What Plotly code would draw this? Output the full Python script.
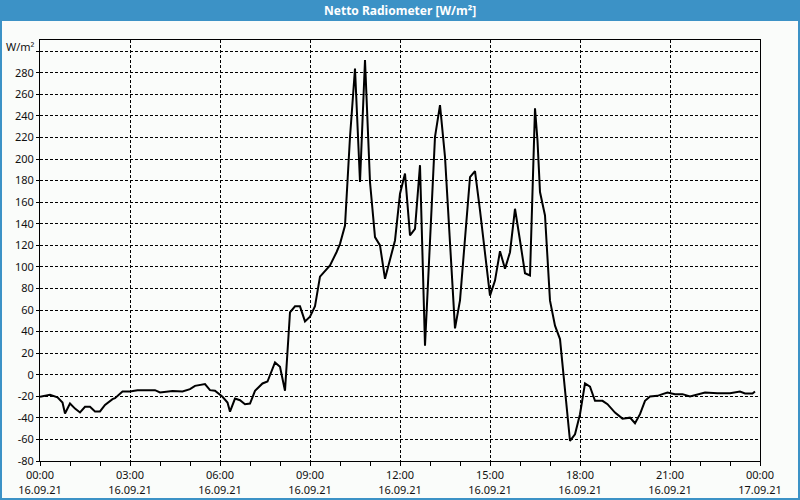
import plotly.graph_objects as go

times = ["00:00","00:20","00:35","00:45","00:50","01:00","01:10","01:20","01:30","01:40",
         "01:50","02:00","02:10","02:25","02:30","02:45","03:00","03:15","03:50","04:00",
         "04:25","04:45","05:00","05:10","05:30","05:40","05:50","06:05","06:15","06:20",
         "06:30","06:40","06:50","07:00","07:10","07:25","07:35","07:50","08:00","08:10",
         "08:20","08:30","08:40","08:50","09:00","09:10","09:20","09:40","09:53","10:00",
         "10:10","10:20","10:30","10:40","10:50","11:00","11:10","11:20","11:30","11:50",
         "12:00","12:10","12:20","12:30","12:40","12:50","13:10","13:20","13:30","13:50",
         "14:00","14:10","14:20","14:30","14:40","15:00","15:10","15:20","15:30","15:40",
         "15:50","16:00","16:10","16:20","16:30","16:35","16:40","16:50","17:00","17:10",
         "17:20","17:40","17:50","18:00","18:10","18:20","18:30","18:45","18:55","19:10",
         "19:25","19:40","19:50","20:00","20:10","20:20","20:35","20:45","20:55","21:10",
         "21:25","21:40","21:55","22:10","22:35","23:00","23:20","23:30","23:45","23:50"]
values = [-20.5,-18.6,-21,-25.8,-36,-26.7,-31.4,-35,-29.8,-29.8,
          -34,-34,-28,-22.6,-21.7,-15.6,-15.6,-14.3,-14.3,-16.5,
          -15,-15.6,-13.4,-10.3,-8.7,-14.3,-14.9,-20.5,-25.8,-34.2,
          -22.1,-23.6,-27.3,-26.7,-14.9,-8.1,-6.3,11.4,7.4,-14.9,
          57.9,63.4,63.4,49.5,53.9,63.5,91,101.3,113.6,121.4,
          138.4,220.5,284,178.7,291.8,178.7,127.6,119.9,88.9,124.5,
          167.9,186.5,129.2,135.3,194.3,26.9,220.5,250,202,43,
          69,130.7,183.3,188.9,152.3,73.4,87.3,114.6,98.2,113.6,
          153.9,124.5,94.1,92,247,217,169.4,147.7,68.7,45.5,
          33.1,-61.4,-55.2,-36.6,-8.1,-11,-24.2,-24.2,-27.3,-35.1,
          -40.7,-39.8,-45,-36.6,-24.2,-20.2,-19.6,-18,-16.5,-18,
          -18,-20.2,-18.6,-16.5,-17.1,-17.1,-15.6,-17.4,-17.4,-15.6]

x_tick_vals = ["2021-09-16 00:00","2021-09-16 03:00","2021-09-16 06:00","2021-09-16 09:00",
               "2021-09-16 12:00","2021-09-16 15:00","2021-09-16 18:00","2021-09-16 21:00",
               "2021-09-17 00:00"]
x_tick_text = ["00:00<br>16.09.21","03:00<br>16.09.21","06:00<br>16.09.21","09:00<br>16.09.21",
               "12:00<br>16.09.21","15:00<br>16.09.21","18:00<br>16.09.21","21:00<br>16.09.21",
               "00:00<br>17.09.21"]
y_tick_vals = list(range(-80, 301, 20))
y_tick_text = [str(v) for v in y_tick_vals[:-1]] + [""]

title_text = "Netto Radiometer [W/m²]"
unit_text = "W/m²"

x = ["2021-09-16 " + t for t in times]

FONT = "Noto Sans"
BLUE = "#3c92c6"

fig = go.Figure()
fig.add_trace(go.Scatter(x=x, y=values, mode="lines",
                         line=dict(color="black", width=2), hoverinfo="skip"))

L, R, T, B = 40, 40, 40, 39
W, H = 800, 500
pw, ph = W - L - R, H - T - B

def px(xp):
    return (xp - L) / pw

def py(yp):
    return (H - B - yp) / ph

fig.update_layout(
    width=W, height=H,
    margin=dict(l=L, r=R, t=T, b=B, autoexpand=False),
    paper_bgcolor="#fafcfa", plot_bgcolor="#fafcfa",
    showlegend=False,
    font=dict(family=FONT, size=11, color="#111"),
    shapes=[
        dict(type="rect", xref="paper", yref="paper", x0=px(0), x1=px(800), y0=py(0), y1=py(21),
             fillcolor=BLUE, line=dict(width=0), layer="below"),
        dict(type="rect", xref="paper", yref="paper", x0=px(1), x1=px(799), y0=py(1), y1=py(499),
             fillcolor="rgba(0,0,0,0)", line=dict(color=BLUE, width=2)),
    ],
    annotations=[
        dict(text="<b>" + title_text + "</b>", xref="paper", yref="paper", x=0.5, y=py(11),
             showarrow=False, font=dict(family=FONT, size=12, color="white"),
             xanchor="center", yanchor="middle"),
        dict(text=unit_text, xref="paper", yref="paper", x=px(37), y=py(46),
             showarrow=False, font=dict(family=FONT, size=11, color="#111"),
             xanchor="right", yanchor="middle"),
    ],
)

fig.update_xaxes(
    type="date", automargin=False,
    range=["2021-09-16 00:00", "2021-09-17 00:00"],
    tickvals=x_tick_vals, ticktext=x_tick_text,
    showgrid=True, gridcolor="black", gridwidth=1, griddash="3px,2px",
    showline=True, linecolor="black", linewidth=1, mirror=True,
    ticks="outside", ticklen=4, tickcolor="black",
    minor=dict(dtick=3600000, ticks="outside", ticklen=4, tickcolor="black", showgrid=False),
    zeroline=False, fixedrange=True,
)
fig.update_yaxes(
    range=[-80, 310.4], automargin=False,
    tickvals=y_tick_vals, ticktext=y_tick_text,
    showgrid=True, gridcolor="black", gridwidth=1, griddash="3px,2px",
    showline=True, linecolor="black", linewidth=1, mirror=True,
    ticks="outside", ticklen=3, tickcolor="black",
    zeroline=False, fixedrange=True,
)

fig.write_html("out.html")
